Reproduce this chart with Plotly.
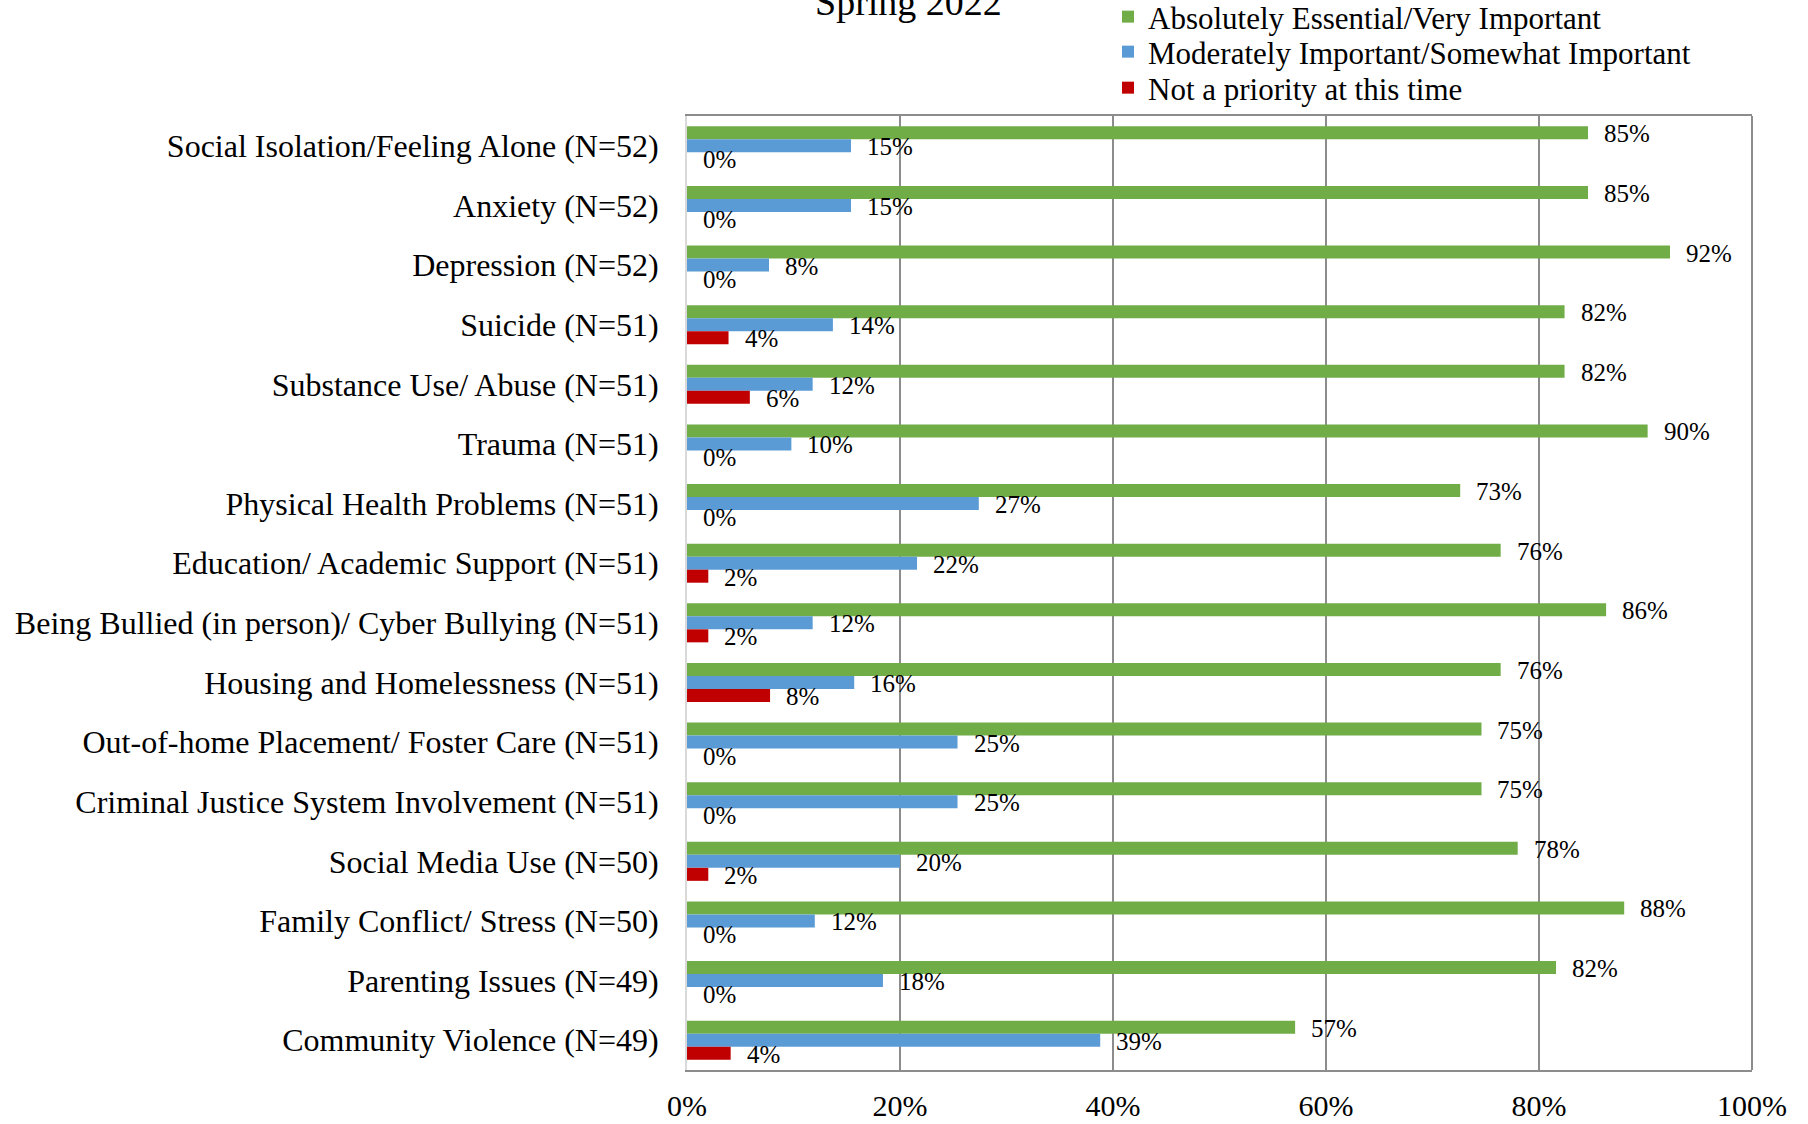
import plotly.graph_objects as go

categories = [
    "Social Isolation/Feeling Alone (N=52)",
    "Anxiety (N=52)",
    "Depression (N=52)",
    "Suicide (N=51)",
    "Substance Use/ Abuse (N=51)",
    "Trauma (N=51)",
    "Physical Health Problems (N=51)",
    "Education/ Academic Support (N=51)",
    "Being Bullied (in person)/ Cyber Bullying (N=51)",
    "Housing and Homelessness (N=51)",
    "Out-of-home Placement/ Foster Care (N=51)",
    "Criminal Justice System Involvement (N=51)",
    "Social Media Use (N=50)",
    "Family Conflict/ Stress (N=50)",
    "Parenting Issues (N=49)",
    "Community Violence (N=49)",
]

essential = [84.6, 84.6, 92.3, 82.4, 82.4, 90.2, 72.6, 76.4, 86.3, 76.4, 74.6, 74.6, 78.0, 88.0, 81.6, 57.1]
moderate = [15.4, 15.4, 7.7, 13.7, 11.8, 9.8, 27.4, 21.6, 11.8, 15.7, 25.4, 25.4, 20.0, 12.0, 18.4, 38.8]
not_priority = [0.0, 0.0, 0.0, 3.9, 5.9, 0.0, 0.0, 2.0, 2.0, 7.8, 0.0, 0.0, 2.0, 0.0, 0.0, 4.1]

series_names = [
    "Absolutely Essential/Very Important",
    "Moderately Important/Somewhat Important",
    "Not a priority at this time",
]
series_values = [essential, moderate, not_priority]
series_colors = ["#70AD47", "#5B9BD5", "#C00000"]

x_ticks = [0, 20, 40, 60, 80, 100]
x_ticktext = ["0%", "20%", "40%", "60%", "80%", "100%"]

title_text = "Spring 2022"

FONT = "Times New Roman, Liberation Serif, serif"

W, H = 1808, 1124
ML, MR, MT, MB = 687, 56, 116, 54
PLOT_H = H - MT - MB
PLOT_W = W - ML - MR


def paper_y(win_y):
    return 1 + (MT - win_y) / PLOT_H


def paper_x(win_x):
    return (win_x - ML) / PLOT_W


legend_ids = ["legend", "legend2", "legend3"]
legend_centers = [17, 52, 88]

fig = go.Figure()
for name, vals, col, lid in zip(series_names, series_values, series_colors, legend_ids):
    fig.add_trace(go.Bar(
        y=categories, x=vals, orientation="h", name=name,
        marker=dict(color=col, line=dict(width=0)),
        hoverinfo="x+y", legend=lid, showlegend=True,
    ))

annotations = []
yshifts = [12, -1, -14]
for vals, ys in zip(series_values, yshifts):
    for cat, v in zip(categories, vals):
        annotations.append(dict(
            x=v, y=cat, xref="x", yref="y", text=f"{int(v + 0.5)}%",
            showarrow=False, xanchor="left", yanchor="middle",
            xshift=14, yshift=ys, font=dict(family=FONT, size=25, color="black"),
        ))

annotations.append(dict(
    x=paper_x(908), y=paper_y(2), xref="paper", yref="paper",
    text=title_text, showarrow=False, xanchor="center", yanchor="middle",
    font=dict(family=FONT, size=38, color="black"),
))

legend_layouts = {}
for lid, yc in zip(legend_ids, legend_centers):
    legend_layouts[lid] = dict(
        x=paper_x(1108), y=paper_y(yc), xanchor="left", yanchor="middle",
        font=dict(family=FONT, size=31, color="black"),
        bgcolor="rgba(0,0,0,0)", itemwidth=30, visible=True,
    )

fig.update_layout(
    width=W, height=H,
    margin=dict(l=ML, r=MR, t=MT, b=MB, autoexpand=False),
    paper_bgcolor="white", plot_bgcolor="white",
    barmode="group", bargap=0.345, bargroupgap=0,
    font=dict(family=FONT, color="black"),
    showlegend=True,
    annotations=annotations,
    shapes=[dict(type="line", xref="paper", yref="paper", x0=1, x1=1, y0=0, y1=1,
                 line=dict(color="#8C8C8C", width=2))],
    xaxis=dict(
        range=[0, 100], tickvals=x_ticks, ticktext=x_ticktext,
        showgrid=True, gridcolor="#8C8C8C", gridwidth=1.5,
        showline=True, mirror=True, linecolor="#8C8C8C", linewidth=2,
        ticks="outside", ticklen=8, tickcolor="rgba(0,0,0,0)",
        tickfont=dict(family=FONT, size=30, color="black"),
        zeroline=False, automargin=False, fixedrange=True,
    ),
    yaxis=dict(
        autorange="reversed", showgrid=False,
        showline=True, linecolor="#D9D9D9", linewidth=2,
        ticks="outside", ticklen=20, tickcolor="rgba(0,0,0,0)",
        tickfont=dict(family=FONT, size=32, color="black"),
        automargin=False, fixedrange=True,
    ),
    **legend_layouts,
)

# remove the page's default 8px body margin so the figure starts at the window corner
fig.write_html("out.html", config={"displayModeBar": False},
               post_script="document.body.style.margin='0';")
